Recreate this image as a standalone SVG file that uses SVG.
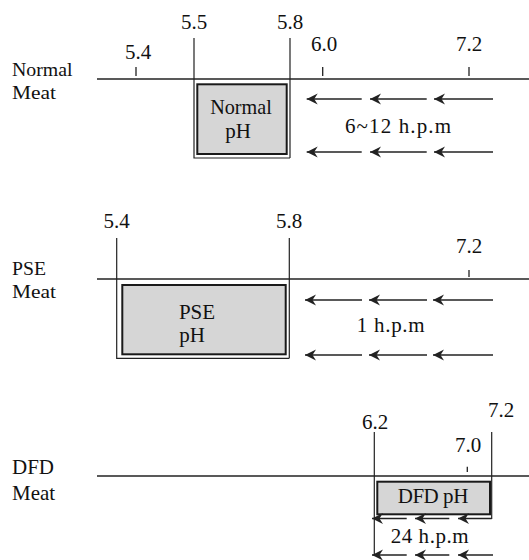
<svg xmlns="http://www.w3.org/2000/svg" width="529" height="560" viewBox="0 0 529 560">
<style>
text{font-family:"Liberation Serif","DejaVu Serif",serif;font-size:21px;fill:#111}
.lab{font-size:19px}
.m{text-anchor:middle}
.axis{stroke:#222;stroke-width:1.4;fill:none}
.v{stroke:#222;stroke-width:1.2;fill:none}
.tick{stroke:#222;stroke-width:1.3}
.box{fill:#d6d6d6;stroke:#1a1a1a;stroke-width:2}
.arr{stroke:#222;stroke-width:1.5;fill:none;marker-end:url(#ah)}
</style>
<defs>
<marker id="ah" markerWidth="13" markerHeight="12" refX="12" refY="6" orient="auto" markerUnits="userSpaceOnUse">
<path d="M1,0.5 L12,6 L1,11.5 L4.5,6 Z" fill="#222"/>
</marker>
</defs>
<rect width="529" height="560" fill="#fff"/>

<g id="normal">
<text class="lab" x="12" y="76.3" textLength="60.6" lengthAdjust="spacingAndGlyphs">Normal</text>
<text class="lab" x="12" y="98.5" textLength="44" lengthAdjust="spacingAndGlyphs">Meat</text>
<line class="axis" x1="97" y1="79" x2="529" y2="79"/>
<line class="tick" x1="136" y1="67" x2="136" y2="76"/>
<line class="tick" x1="322.7" y1="67" x2="322.7" y2="76"/>
<line class="tick" x1="469" y1="67" x2="469" y2="76"/>
<text class="m" x="138" y="59.3">5.4</text>
<text class="m" x="194" y="28.5">5.5</text>
<text class="m" x="290" y="28.5">5.8</text>
<text class="m" x="324" y="51">6.0</text>
<text class="m" x="469" y="51">7.2</text>
<path class="v" d="M194,38 V158 H290 M290,38 V158"/>
<rect id="normal-ph" class="box" x="197.3" y="84.3" width="89.4" height="69.7"/>
<text class="m" x="241" y="114.3" textLength="61.7" lengthAdjust="spacingAndGlyphs">Normal</text>
<text class="m" x="238" y="138.3">pH</text>
<text x="345" y="133" textLength="106" lengthAdjust="spacing">6~12 h.p.m</text>
</g>

<g id="pse">
<text class="lab" x="12" y="275.3" textLength="34" lengthAdjust="spacingAndGlyphs">PSE</text>
<text class="lab" x="12" y="298" textLength="44" lengthAdjust="spacingAndGlyphs">Meat</text>
<line class="axis" x1="97" y1="279" x2="529" y2="279"/>
<line class="tick" x1="469" y1="270" x2="469" y2="277"/>
<text class="m" x="116.7" y="228.3">5.4</text>
<text class="m" x="289" y="228.3">5.8</text>
<text class="m" x="469" y="253.3">7.2</text>
<path class="v" d="M116.7,238 V358.3 H289.3 M289.3,238 V358.3"/>
<rect id="pse-ph" class="box" x="122.3" y="285" width="163.4" height="69.3"/>
<text class="m" x="197" y="319">PSE</text>
<text class="m" x="192" y="341.7">pH</text>
<text x="356.7" y="331.7" textLength="68" lengthAdjust="spacing">1 h.p.m</text>
</g>

<g id="dfd">
<text x="12" y="473.7">DFD</text>
<text x="12" y="499.7">Meat</text>
<line class="axis" x1="97" y1="476" x2="529" y2="476"/>
<line class="tick" x1="467.3" y1="466.7" x2="467.3" y2="472"/>
<text class="m" x="375" y="428.5">6.2</text>
<text class="m" x="501" y="417">7.2</text>
<text class="m" x="468" y="452.3">7.0</text>
<path class="v" d="M374.3,432 V554 M491.7,432 V519"/>
<rect id="dfd-ph" class="box" x="377.3" y="481.7" width="112.7" height="32.6"/>
<text x="397.7" y="503.3" textLength="70.6" lengthAdjust="spacing">DFD pH</text>
<text x="390.7" y="542.7" textLength="78" lengthAdjust="spacing">24 h.p.m</text>
</g>

<g id="connectors">
<line class="arr" x1="361.7" y1="99" x2="306.7" y2="99"/>
<line class="arr" x1="426.7" y1="99" x2="370" y2="99"/>
<line class="arr" x1="493" y1="99" x2="434" y2="99"/>
<line class="arr" x1="361.7" y1="152" x2="306.7" y2="152"/>
<line class="arr" x1="426.7" y1="152" x2="370" y2="152"/>
<line class="arr" x1="493" y1="152" x2="434" y2="152"/>

<line class="arr" x1="362" y1="300" x2="305" y2="300"/>
<line class="arr" x1="427" y1="300" x2="369" y2="300"/>
<line class="arr" x1="493" y1="300" x2="433" y2="300"/>
<line class="arr" x1="362" y1="355" x2="305" y2="355"/>
<line class="arr" x1="427" y1="355" x2="369" y2="355"/>
<line class="arr" x1="493" y1="355" x2="433" y2="355"/>

<line class="arr" x1="406.7" y1="518.5" x2="372" y2="518.5"/>
<line class="arr" x1="449.3" y1="518.5" x2="415" y2="518.5"/>
<line class="arr" x1="491.7" y1="518.5" x2="458" y2="518.5"/>
<line class="arr" x1="406.7" y1="555" x2="372" y2="555"/>
<line class="arr" x1="449.3" y1="555" x2="415" y2="555"/>
<line class="arr" x1="493" y1="555" x2="458" y2="555"/>
</g>
</svg>
